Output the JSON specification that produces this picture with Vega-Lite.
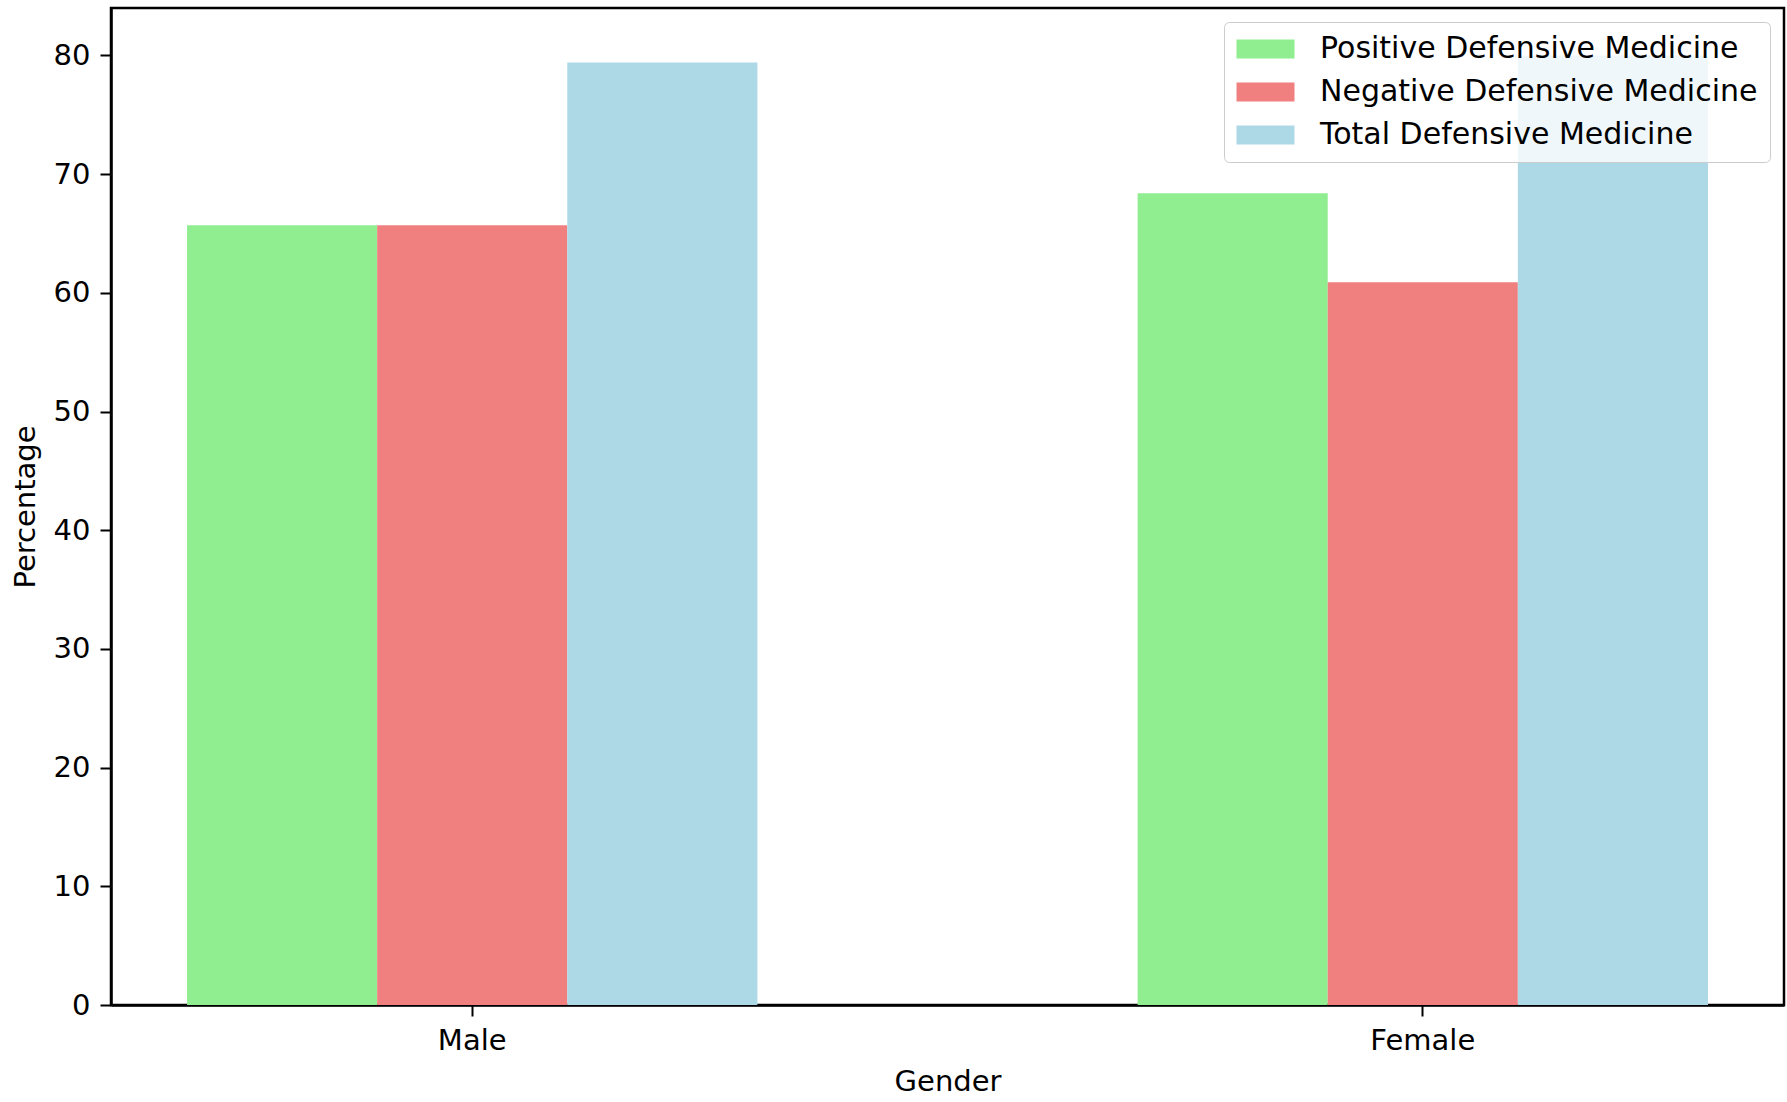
{
  "$schema": "https://vega.github.io/schema/vega-lite/v6.json",
  "autosize": {"type": "none"},
  "padding": {"left": 111, "top": 8, "right": 3, "bottom": 97},
  "width": 1673,
  "height": 997,
  "background": "white",
  "config": {
    "font": "DejaVu Sans",
    "view": {"stroke": "black", "strokeWidth": 2.5},
    "axis": {
      "grid": false,
      "domainColor": "black",
      "domainWidth": 2.5,
      "tickColor": "black",
      "tickWidth": 2,
      "tickSize": 11,
      "labelFont": "DejaVu Sans",
      "labelFontSize": 29,
      "labelColor": "black",
      "labelPadding": 10,
      "titleFont": "DejaVu Sans",
      "titleFontSize": 29,
      "titleFontWeight": "normal",
      "titleColor": "black"
    }
  },
  "data": {
    "values": [
      {"gender": "Male", "type": "Positive Defensive Medicine", "value": 65.7},
      {"gender": "Male", "type": "Negative Defensive Medicine", "value": 65.7},
      {"gender": "Male", "type": "Total Defensive Medicine", "value": 79.4},
      {"gender": "Female", "type": "Positive Defensive Medicine", "value": 68.4},
      {"gender": "Female", "type": "Negative Defensive Medicine", "value": 60.9},
      {"gender": "Female", "type": "Total Defensive Medicine", "value": 80.0}
    ]
  },
  "mark": {"type": "bar"},
  "encoding": {
    "x": {
      "field": "gender",
      "type": "nominal",
      "sort": ["Male", "Female"],
      "scale": {"paddingInner": 0.4, "paddingOuter": 0.08},
      "axis": {"title": "Gender", "labelAngle": 0, "titlePadding": 12}
    },
    "xOffset": {
      "field": "type",
      "type": "nominal",
      "sort": ["Positive Defensive Medicine", "Negative Defensive Medicine", "Total Defensive Medicine"],
      "scale": {"paddingInner": 0, "paddingOuter": 0}
    },
    "y": {
      "field": "value",
      "type": "quantitative",
      "scale": {"domain": [0, 84.0], "nice": false, "zero": true},
      "axis": {"title": "Percentage", "values": [0, 10, 20, 30, 40, 50, 60, 70, 80], "titlePadding": 13}
    },
    "color": {
      "field": "type",
      "type": "nominal",
      "sort": ["Positive Defensive Medicine", "Negative Defensive Medicine", "Total Defensive Medicine"],
      "scale": {
        "domain": ["Positive Defensive Medicine", "Negative Defensive Medicine", "Total Defensive Medicine"],
        "range": ["#90EE90", "#F08080", "#ADD8E6"]
      },
      "legend": {
        "title": null,
        "orient": "top-right",
        "offset": 14,
        "padding": 12,
        "fillColor": "rgba(255,255,255,0.8)",
        "strokeColor": "#cccccc",
        "cornerRadius": 5,
        "labelFont": "DejaVu Sans",
        "labelFontSize": 30,
        "labelColor": "black",
        "labelOffset": 54,
        "labelLimit": 600,
        "rowPadding": 13,
        "symbolType": "M-1,-0.66H3V0.66H-1Z",
        "symbolSize": 841,
        "symbolStrokeWidth": 0,
        "symbolOpacity": 1
      }
    }
  }
}
